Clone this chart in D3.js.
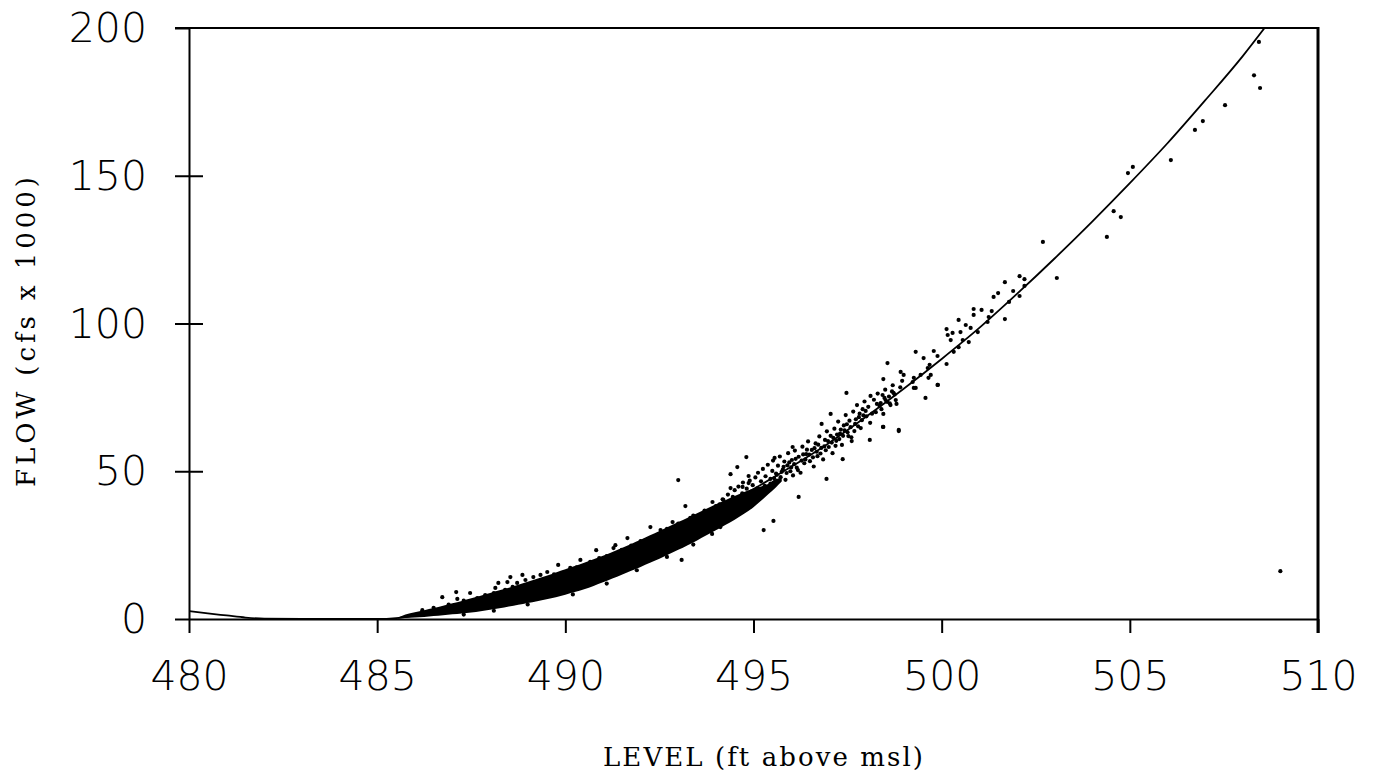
<!DOCTYPE html>
<html>
<head>
<meta charset="utf-8">
<script src="https://cdn.jsdelivr.net/npm/d3@7"></script>
<style>
  body { margin: 0; background: #fff; }
</style>
</head>
<body>
<script>
var width = 1375,
    height = 775;

var xTicks = [480, 485, 490, 495, 500, 505, 510];
var yTicks = [0, 50, 100, 150, 200];

// fitted rating curve
var fitLevel = [480, 480.5, 481, 481.5, 482, 483, 484, 485, 485.5, 486, 487, 488, 489, 490, 491, 492, 493, 494, 495, 496, 497, 498, 499, 500, 501, 502, 503, 504, 505, 506, 507, 508, 508.58];
var fitFlow  = [2.7, 1.9, 1.2, 0.5, 0.1, 0, 0, 0, 0.3, 1.2, 3.5, 6.5, 10, 13.5, 18.5, 24.5, 30.5, 37, 44, 51.5, 59.5, 68.5, 78, 88, 98.5, 110, 122, 134.5, 147.5, 161, 175.5, 190.5, 200];

// solid, overplotted part of the observations (lower / upper edge)
var coreLevel = [485.55, 485.75, 486, 486.25, 486.5, 486.75, 487, 487.25, 487.5, 487.75, 488, 488.25, 488.5, 488.75, 489, 489.25, 489.5, 489.75, 490, 490.25, 490.5, 490.75, 491, 491.25, 491.5, 491.75, 492, 492.25, 492.5, 492.75, 493, 493.25, 493.5, 493.75, 494, 494.25, 494.5, 494.75, 495, 495.2, 495.4, 495.6, 495.75];
var coreLow   = [0.2, 0.3, 0.5, 0.7, 1.0, 1.3, 1.6, 1.9, 2.2, 2.6, 3.1, 3.6, 4.2, 4.8, 5.4, 6.0, 6.7, 7.4, 8.2, 9.1, 10.1, 11.2, 12.4, 13.7, 15.0, 16.3, 17.6, 19.0, 20.4, 21.9, 23.4, 25.0, 26.6, 28.3, 30.0, 31.8, 33.6, 35.6, 37.8, 40.0, 42.3, 44.6, 46.5];
var coreHigh  = [0.5, 1.5, 2.3, 3.0, 3.7, 4.5, 5.3, 6.1, 7.0, 7.9, 8.8, 9.7, 10.6, 11.6, 12.6, 13.6, 14.6, 15.7, 16.8, 17.9, 19.0, 20.2, 21.4, 22.7, 24.0, 25.4, 26.8, 28.3, 29.8, 31.3, 32.8, 34.3, 35.8, 37.3, 38.8, 40.2, 41.6, 43.0, 44.2, 44.8, 45.8, 47.4, 47.5];

// individual observations [level, flow]
var obs = [
  [486.73,7.4],[487.1,9.1],[487.13,6.8],[487.47,8.8],[487.66,7.1],[487.87,8.1],[487.95,5.8],[488.14,10.5],
  [488.22,12.2],[488.46,12.5],[488.54,14.2],[488.72,12.2],[488.86,14.9],[488.94,13.2],[489.15,14.2],[489.34,14.9],
  [489.52,15.9],[489.65,14.2],[489.81,18.3],[489.92,15.6],[490.13,17.3],[490.4,20],[490.66,19.3],[490.82,23.3],
  [491.28,24],[491.33,25],[491.65,27.4],[491.91,25],[492.13,26.7],[492.26,31.1],[492.53,30.1],[492.85,32.8],
  [493.19,38.2],[493.32,34.2],[493.59,33.5],[493.78,35.2],[493.91,39.6],[494.04,36.9],[494.2,40.3],[494.39,44.3],
  [494.71,44.7],[494.87,46],[495.0,43],[493.0,47],[494.39,49],[494.57,51.4],[494.87,48.4],[493.09,20],[494.12,31.1],
  [487.3,1.5],[488.1,2.8],[489.0,4.9],[490.2,8.3],[491.1,12.0],[491.9,16.5],[492.7,21.0],[493.4,25.2],[493.9,28.8],
  [486.2,3.0],[486.5,3.8],[486.9,4.9],[487.3,6.2],[488.1,8.8],[488.4,9.9],[488.6,10.9],[489.1,12.0],[489.4,13.2],
  [489.7,15.1],[490.3,17.5],[490.6,18.2],[490.9,20.6],[491.1,21.3],[491.5,23.4],[491.75,24.8],[492.0,26.4],
  [492.4,28.0],[492.7,30.5],[493.0,32.3],[493.4,35.0],[493.7,36.7],[494.0,38.2],
  [494.0,33.5],[494.05,36.2],[494.1,38.8],[494.12,34.8],[494.18,40.5],[494.2,37.1],[494.25,35.2],[494.3,39.6],
  [494.32,42.1],[494.38,36.8],[494.42,38.9],[494.45,41.3],[494.5,43.6],[494.52,37.7],[494.58,40.2],[494.6,44.8],
  [494.65,39.1],[494.7,42.5],[494.72,46.2],[494.78,41.0],[494.82,44.1],[494.85,38.6],[494.9,46.8],[494.92,43.0],
  [494.98,45.3],[495.02,41.8],[495.05,47.9],[495.1,44.2],[495.12,49.5],[495.18,42.9],[495.2,46.6],[495.25,50.8],
  [495.3,45.1],[495.32,48.3],[495.38,52.2],[495.4,44.0],[495.45,47.4],[495.5,50.1],[495.52,53.6],[495.58,46.3],
  [495.6,49.2],[495.65,51.9],[495.7,55.0],[495.72,48.0],[495.78,50.6],[495.82,53.3],[495.85,47.1],[495.9,52.0],
  [495.92,56.1],[495.98,50.0],[496.02,53.8],[496.05,48.6],[496.1,57.0],[496.15,51.2],[496.2,54.9],[496.25,49.5],
  [496.3,58.3],[496.35,52.7],[496.4,55.8],[496.45,60.1],[496.5,53.4],[496.55,57.2],[496.6,51.6],[496.65,59.4],
  [496.7,55.1],[496.75,61.8],[496.8,57.9],[496.85,54.0],[496.9,60.6],[496.95,63.5],[497.0,58.2],[497.05,62.0],
  [497.1,56.1],[497.15,64.4],[497.2,60.3],[497.25,66.8],[497.3,62.7],[497.35,58.9],[497.4,65.5],[497.45,69.0],
  [497.5,63.2],[497.55,67.1],[497.6,61.5],[497.65,70.2],[497.7,66.0],[497.75,72.4],[497.8,68.3],[497.85,64.6],
  [497.9,71.0],[497.95,73.6],[498.0,68.6],[498.05,71.8],[498.1,66.4],[498.2,74.2],[498.25,70.0],[498.3,76.3],
  [498.35,72.1],[498.45,69.4],[498.5,77.6],[498.55,73.5],[498.6,75.3],[498.7,79.1],[498.75,76.0],[498.8,72.8],
  [498.9,78.4],[498.95,80.6],
  [495.45,45.8],[495.55,47.6],[495.62,48.8],[495.68,46.9],[495.75,49.8],[495.8,51.5],[495.88,49.4],[495.95,53.0],
  [496.0,51.3],[496.08,52.4],[496.12,54.2],[496.18,50.4],[496.28,53.6],[496.32,55.7],[496.38,54.0],[496.42,57.3],
  [496.48,55.6],[496.58,54.7],[496.62,57.8],[496.68,56.6],[496.72,59.0],[496.78,56.0],[496.88,58.4],[496.92,57.1],
  [496.98,60.2],[497.08,59.7],[497.12,61.3],[497.18,58.6],[497.22,62.4],[497.28,60.9],[497.32,64.1],[497.38,62.0],
  [497.42,63.8],[497.48,65.9],[497.52,61.9],[497.58,64.9],[497.68,63.6],[497.72,67.6],[497.78,65.2],[497.82,69.5],
  [497.88,67.3],[497.92,68.9],[497.98,70.4],[498.15,69.5],[498.28,72.8],[498.4,71.0],[498.48,74.8],[498.62,73.0],
  [498.68,77.0],
  [494.81,54.8],[495.53,33.2],[495.27,30.1],[496.2,41.3],[496.94,47.4],[497.37,54.1],[497.61,60.2],[498.09,60.6],
  [498.44,65],[498.86,63.6],[499.9,79.2],[497.47,76.5],[497.05,69.4],[496.81,66],[496.04,58.2],[495.56,54.5],
  [498.11,75.5],[498.43,75.8],[499.26,78.2],
  [502.69,127.6],[504.39,129.3],[503.06,115.4],[501.68,114],[502.07,116],[502.2,115],[501.5,110.3],[501.38,109],
  [501.9,111],[502.07,109.3],[502.2,112.7],[501.79,107.3],[501.68,101.5],[501.33,104.2],[501.06,104.6],[500.85,104.9],
  [500.85,102.9],[501.25,102.2],[501.22,100.5],[500.45,101.2],[500.64,99.5],[500.77,98.5],[500.96,97.1],[500.5,97.1],
  [500.13,98.1],[500.16,96.1],[500.29,96.8],[500.24,94.4],[500.56,94.4],[500.72,93.7],[500.45,92],[500.32,90.4],
  [499.79,90.7],[499.31,90.4],[499.52,88.3],[499.89,89],[499.68,86],[500.13,86.3],[499.63,84.9],[499.44,82.6],
  [499.71,82.6],[499.65,81.6],[499.26,81.6],[499.23,80.2],[499.31,78.2],[498.99,82.6],[498.91,83.6],[498.56,86.6],
  [498.45,81.2],[499.89,79.2],[498.72,76.5],[498.51,74.1],[498.38,73.1],[498.64,72.4],[498.78,74.1],[498.45,65],
  [498.86,64],[499.57,74.8],
  [508.43,195.3],[508.3,184],[508.46,179.7],[507.53,173.9],[506.94,168.5],[506.73,165.5],[506.09,155.3],[505.08,153],
  [504.95,150.9],[504.57,138],[504.76,136],[509.0,16.2]
];

var svg = d3.select('body')
  .append('svg')
  .attr('width', width)
  .attr('height', height);

var x = d3.scaleLinear().domain([480, 510]).range([189, 1318]);
var y = d3.scaleLinear().domain([0, 200]).range([619, 28]);

svg.append('clipPath').attr('id', 'plot')
  .append('rect')
  .attr('x', x(480)).attr('y', y(200))
  .attr('width', x(510) - x(480)).attr('height', y(0) - y(200));

var tickFont = '"DejaVu Sans", "Open Sans", sans-serif';
var titleFont = '"DejaVu Serif", "Liberation Serif", serif';

// dense band
var core = coreLevel.map(function(d, i) { return {level: d, lo: coreLow[i], hi: coreHigh[i]}; });
svg.append('path')
  .datum(core)
  .attr('fill', '#000')
  .attr('d', d3.area()
    .x(function(d) { return x(d.level); })
    .y0(function(d) { return y(d.lo); })
    .y1(function(d) { return y(d.hi); })
    .curve(d3.curveMonotoneX));

svg.selectAll('circle.obs')
  .data(obs)
  .enter()
  .append('circle')
  .attr('class', 'obs')
  .attr('cx', function(d) { return x(d[0]); })
  .attr('cy', function(d) { return y(d[1]); })
  .attr('r', 2.1)
  .attr('fill', '#000');

// fitted curve
var fit = fitLevel.map(function(d, i) { return [d, fitFlow[i]]; });
svg.append('path')
  .datum(fit)
  .attr('clip-path', 'url(#plot)')
  .attr('fill', 'none')
  .attr('stroke', '#000')
  .attr('stroke-width', 1.8)
  .attr('d', d3.line()
    .x(function(d) { return x(d[0]); })
    .y(function(d) { return y(d[1]); })
    .curve(d3.curveMonotoneX));

// axes
var xAxis = svg.append('g')
  .attr('transform', 'translate(0,' + y(0) + ')')
  .call(d3.axisBottom(x).tickValues(xTicks).tickSize(14).tickSizeOuter(0).tickFormat(d3.format('d')));

var yAxis = svg.append('g')
  .attr('transform', 'translate(' + x(480) + ',0)')
  .call(d3.axisLeft(y).tickValues(yTicks).tickSize(14).tickSizeOuter(0).tickPadding(28));

svg.append('g')
  .attr('transform', 'translate(' + x(480) + ',0)')
  .call(d3.axisRight(y).tickValues([50, 100, 150]).tickSize(14).tickFormat(''))
  .select('.domain').remove();

svg.selectAll('.domain, .tick line')
  .attr('stroke', '#000')
  .attr('stroke-width', 2);

xAxis.selectAll('text')
  .attr('y', 71)
  .attr('dy', 0)
  .style('font-family', tickFont)
  .style('font-weight', 200)
  .style('font-size', '41px')
  .attr('fill', '#000');

yAxis.selectAll('text')
  .attr('dy', '0.33em')
  .style('font-family', tickFont)
  .style('font-weight', 200)
  .style('font-size', '41px')
  .attr('fill', '#000');

// frame
svg.append('line')
  .attr('x1', x(480) - 14).attr('x2', x(510) + 1)
  .attr('y1', y(200)).attr('y2', y(200))
  .attr('stroke', '#000').attr('stroke-width', 2);

svg.append('line')
  .attr('x1', x(510)).attr('x2', x(510))
  .attr('y1', y(200) - 1).attr('y2', y(0) + 14)
  .attr('stroke', '#000').attr('stroke-width', 3);

// titles
svg.append('text')
  .attr('x', 763)
  .attr('y', 766)
  .attr('text-anchor', 'middle')
  .attr('textLength', 320)
  .attr('lengthAdjust', 'spacing')
  .style('font-family', titleFont)
  .style('font-size', '26px')
  .text('LEVEL (ft above msl)');

svg.append('text')
  .attr('transform', 'translate(35,332) rotate(-90)')
  .attr('text-anchor', 'middle')
  .attr('textLength', 310)
  .attr('lengthAdjust', 'spacing')
  .style('font-family', titleFont)
  .style('font-size', '26px')
  .text('FLOW (cfs x 1000)');
</script>
</body>
</html>
